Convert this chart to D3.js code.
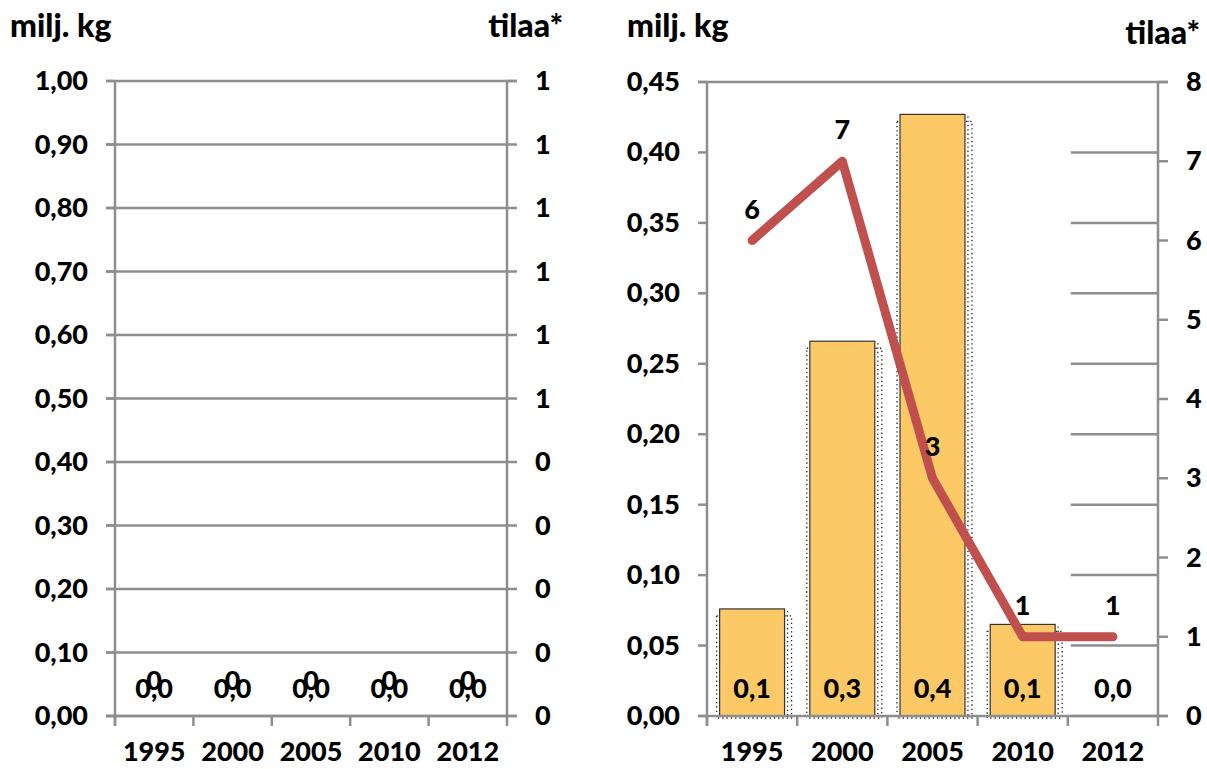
<!DOCTYPE html>
<html>
<head>
<meta charset="utf-8">
<script src="https://d3js.org/d3.v7.min.js"></script>
<style>
  body { margin: 0; background: #fff; }
  svg text { font-family: Lato, "Open Sans", sans-serif; font-weight: 900; fill: #000; }
</style>
</head>
<body>
<div id="chart"></div>
<script>

// data
var years = ["1995", "2000", "2005", "2010", "2012"];

// left panel: everything zero
var kgLeft = [0, 0, 0, 0, 0];
var farmsLeft = [0, 0, 0, 0, 0];
var kgTicksLeft = [0, 0.1, 0.2, 0.3, 0.4, 0.5, 0.6, 0.7, 0.8, 0.9, 1.0];
var farmLabelsLeft = ["0", "0", "0", "0", "0", "1", "1", "1", "1", "1", "1"];

// right panel
var kgRight = [0.076, 0.266, 0.427, 0.065, 0];
var farmsRight = [6, 7, 3, 1, 1];
var kgTicksRight = [0, 0.05, 0.10, 0.15, 0.20, 0.25, 0.30, 0.35, 0.40, 0.45];
var farmTicksRight = [0, 1, 2, 3, 4, 5, 6, 7, 8];

var axisColor = "#8e8e8e";
var barColor = "#fdc966";
var lineColor = "#c0504d";
var fs = "27px";

var comma = function(f) { return function(d) { return d3.format(f)(d).replace(".", ","); }; };

var svg = d3.select("#chart")
  .append("svg")
  .attr("width", 1207)
  .attr("height", 769);

//***********************************************************
// one panel = bars on left axis + line on right axis
//***********************************************************
function drawPanel(p) {
  var g = svg.append("g");

  var x = d3.scaleBand().domain(years).range([p.left, p.right]).paddingInner(0.28).paddingOuter(0.14);
  var xStep = d3.scaleBand().domain(years).range([p.left, p.right]);
  var yL = d3.scaleLinear().domain([0, p.kgMax]).range([p.bottom, p.top]);
  var yR = d3.scaleLinear().domain([0, p.farmMax]).range([p.bottom, p.top]);

  //gridlines (left axis values)
  g.selectAll(".grid")
    .data(p.kgTicks)
    .enter()
    .append("line")
    .attr("x1", function(d) { return d == p.kgMax ? p.left - 9 : p.gridFrom(xStep); })
    .attr("x2", function(d) { return d == p.kgMax ? p.right + 10 : p.right; })
    .attr("y1", function(d) { return yL(d); })
    .attr("y2", function(d) { return yL(d); })
    .attr("stroke", axisColor)
    .attr("stroke-width", 2.5);

  //left axis ticks
  g.selectAll(".ltick")
    .data(p.kgTicks)
    .enter()
    .append("line")
    .attr("x1", p.left - 9)
    .attr("x2", p.left)
    .attr("y1", function(d) { return yL(d); })
    .attr("y2", function(d) { return yL(d); })
    .attr("stroke", axisColor)
    .attr("stroke-width", 2.5);

  //right axis ticks
  g.selectAll(".rtick")
    .data(p.farmTicks)
    .enter()
    .append("line")
    .attr("x1", p.right)
    .attr("x2", p.right + 10)
    .attr("y1", function(d) { return yR(d); })
    .attr("y2", function(d) { return yR(d); })
    .attr("stroke", axisColor)
    .attr("stroke-width", 2.5);

  //left labels
  g.selectAll(".llab")
    .data(p.kgTicks)
    .enter()
    .append("text")
    .attr("x", p.left - 27)
    .attr("y", function(d) { return yL(d) + 9; })
    .attr("text-anchor", "end")
    .style("font-size", fs)
    .text(comma(".2f"));

  //right labels
  g.selectAll(".rlab")
    .data(p.farmTicks)
    .enter()
    .append("text")
    .attr("x", p.right + 28)
    .attr("y", function(d) { return yR(d) + 9; })
    .style("font-size", fs)
    .text(function(d, i) { return p.farmLabels ? p.farmLabels[i] : d; });

  //bar shadows (dotted, white)
  var bars = years.map(function(y, i) { return {year: y, kg: p.kg[i], farms: p.farms[i]}; });
  var shown = bars.filter(function(d) { return d.kg > 0; });

  g.selectAll(".shadow")
    .data(shown)
    .enter()
    .append("rect")
    .attr("x", function(d) { return x(d.year) - 3; })
    .attr("y", function(d) { return yL(d.kg) + 7; })
    .attr("width", x.bandwidth() + 10)
    .attr("height", function(d) { return p.bottom - yL(d.kg) - 5; })
    .attr("fill", "#fff")
    .attr("stroke", "#222")
    .attr("stroke-width", 1.3)
    .attr("stroke-dasharray", "1.3,3");

  g.selectAll(".shadow2")
    .data(shown)
    .enter()
    .append("line")
    .attr("x1", function(d) { return x(d.year) + x.bandwidth() + 3; })
    .attr("x2", function(d) { return x(d.year) + x.bandwidth() + 3; })
    .attr("y1", function(d) { return yL(d.kg) + 2; })
    .attr("y2", p.bottom)
    .attr("stroke", "#222")
    .attr("stroke-width", 1.3)
    .attr("stroke-dasharray", "1.3,3");

  //bars
  g.selectAll(".bar")
    .data(shown)
    .enter()
    .append("rect")
    .attr("x", function(d) { return x(d.year); })
    .attr("y", function(d) { return yL(d.kg); })
    .attr("width", x.bandwidth())
    .attr("height", function(d) { return p.bottom - yL(d.kg); })
    .attr("fill", barColor)
    .attr("stroke", "#333")
    .attr("stroke-width", 1.2);

  //axes lines
  g.append("line")
    .attr("x1", p.left).attr("x2", p.left)
    .attr("y1", p.top).attr("y2", p.bottom + 10)
    .attr("stroke", axisColor).attr("stroke-width", 2.5);
  g.append("line")
    .attr("x1", p.right).attr("x2", p.right)
    .attr("y1", p.top).attr("y2", p.bottom + 10)
    .attr("stroke", axisColor).attr("stroke-width", 2.5);
  g.append("line")
    .attr("x1", p.left - 9).attr("x2", p.right + 10)
    .attr("y1", p.bottom).attr("y2", p.bottom)
    .attr("stroke", axisColor).attr("stroke-width", 2.5);

  //category ticks
  g.selectAll(".xtick")
    .data(years)
    .enter()
    .append("line")
    .attr("x1", function(d) { return xStep(d); })
    .attr("x2", function(d) { return xStep(d); })
    .attr("y1", p.bottom)
    .attr("y2", p.bottom + 10)
    .attr("stroke", axisColor)
    .attr("stroke-width", 2.5);

  //category labels
  g.selectAll(".xlab")
    .data(years)
    .enter()
    .append("text")
    .attr("x", function(d) { return xStep(d) + xStep.bandwidth() / 2; })
    .attr("y", p.bottom + 45)
    .attr("text-anchor", "middle")
    .style("font-size", fs)
    .text(function(d) { return d; });

  //farm line (only when there is something to show)
  if (d3.max(p.farms) > 0) {
    var line = d3.line()
      .x(function(d) { return x(d.year) + x.bandwidth() / 2; })
      .y(function(d) { return yR(d.farms); });
    g.append("path")
      .datum(bars)
      .attr("d", line)
      .attr("fill", "none")
      .attr("stroke", lineColor)
      .attr("stroke-width", 9)
      .attr("stroke-linecap", "round")
      .attr("stroke-linejoin", "round");
  }

  //bar value labels
  g.selectAll(".blab")
    .data(bars)
    .enter()
    .append("text")
    .attr("x", function(d) { return x(d.year) + x.bandwidth() / 2; })
    .attr("y", p.bottom - 18)
    .attr("text-anchor", "middle")
    .style("font-size", fs)
    .text(function(d) { return comma(".1f")(d.kg); });

  //line value labels
  g.selectAll(".flab")
    .data(bars)
    .enter()
    .append("text")
    .attr("x", function(d) { return x(d.year) + x.bandwidth() / 2; })
    .attr("y", function(d) { return Math.min(yR(d.farms) - 22, p.bottom - 26); })
    .attr("text-anchor", "middle")
    .style("font-size", fs)
    .text(function(d) { return d.farms; });

  //unit titles
  g.append("text")
    .attr("x", p.titleX)
    .attr("y", 37)
    .style("font-size", "32px")
    .text("milj. kg");
  g.append("text")
    .attr("x", p.title2X)
    .attr("y", p.title2Y)
    .attr("text-anchor", "end")
    .style("font-size", "32px")
    .text("tilaa*");
}

drawPanel({
  left: 115, right: 507, top: 81, bottom: 716,
  kg: kgLeft, farms: farmsLeft,
  kgMax: 1.0, farmMax: 1.0,
  kgTicks: kgTicksLeft,
  farmTicks: kgTicksLeft,
  farmLabels: farmLabelsLeft,
  gridFrom: function(xs) { return 106; },
  titleX: 10, title2X: 563, title2Y: 37
});

drawPanel({
  left: 707, right: 1158, top: 82, bottom: 716,
  kg: kgRight, farms: farmsRight,
  kgMax: 0.45, farmMax: 8,
  kgTicks: kgTicksRight,
  farmTicks: farmTicksRight,
  farmLabels: null,
  gridFrom: function(xs) { return xs(years[years.length - 1]) + 3; },
  titleX: 627, title2X: 1200, title2Y: 44
});

</script>
</body>
</html>
